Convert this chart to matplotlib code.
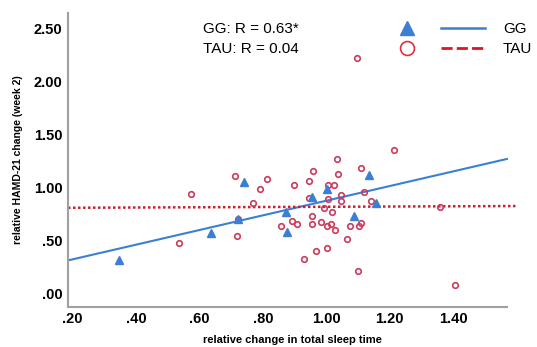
import numpy as np
import matplotlib
matplotlib.use("Agg")
from matplotlib import pyplot as plt
from matplotlib.lines import Line2D
from matplotlib.legend_handler import HandlerTuple

matplotlib.rcParams.update({
    'font.family': ['Liberation Sans', 'DejaVu Sans'],
})

# GG group (triangles)
gg_x = [0.346, 0.635, 0.723, 0.741, 0.872, 0.877, 0.956, 1.001, 1.089, 1.135, 1.156]
gg_y = [0.318, 0.572, 0.711, 1.057, 0.774, 0.588, 0.918, 0.991, 0.739, 1.123, 0.861]

# TAU group (open circles)
tau_x = [0.535, 0.572, 0.711, 0.717, 0.723, 0.768, 0.791, 0.812, 0.856, 0.891,
         0.899, 0.908, 0.930, 0.945, 0.945, 0.956, 0.956, 0.959, 0.967, 0.982,
         0.994, 1.001, 1.003, 1.006, 1.007, 1.015, 1.019, 1.024, 1.027, 1.035,
         1.036, 1.045, 1.047, 1.064, 1.076, 1.097, 1.101, 1.104, 1.108, 1.109,
         1.119, 1.141, 1.214, 1.360, 1.405]
tau_y = [0.484, 0.943, 1.110, 0.550, 0.711, 0.858, 0.991, 1.085, 0.644, 0.689,
         1.022, 0.660, 0.333, 1.069, 0.903, 0.739, 0.660, 1.160, 0.409, 0.676,
         0.808, 0.437, 0.644, 1.022, 0.893, 0.660, 0.771, 1.022, 0.604, 1.271,
         1.126, 0.931, 0.877, 0.519, 0.642, 2.220, 0.220, 0.642, 1.186, 0.673,
         0.962, 0.877, 1.352, 0.821, 0.082]

xticks = [0.2, 0.4, 0.6, 0.8, 1.0, 1.2, 1.4]
xtick_labels = ['.20', '.40', '.60', '.80', '1.00', '1.20', '1.40']
yticks = [0.0, 0.5, 1.0, 1.5, 2.0, 2.5]
ytick_labels = ['.00', '.50', '1.00', '1.50', '2.00', '2.50']

annot = ['GG: R = 0.63*', 'TAU: R = 0.04']

BLUE = '#3b7fd4'
RED_PT = '#cc3a5c'
RED_LN = '#cc1f2f'

fig = plt.figure(figsize=(5.37, 3.47), dpi=100)
ax = fig.add_axes([0.1266, 0.1161, 0.8351, 0.8473])

xmin, xmax = 0.185, 1.6
ax.set_xlim(xmin, xmax)
ax.set_ylim(-0.12, 2.65)

# regression lines
gg_fit = np.polyfit(gg_x, gg_y, 1)
tau_fit = np.polyfit(tau_x, tau_y, 1)
xs_gg = np.array([xmin, 1.57])
xs_tau = np.array([xmin, xmax])
ax.plot(xs_gg, np.polyval(gg_fit, xs_gg), color=BLUE, lw=1.5, zorder=2)
ax.plot(xs_tau, np.polyval(tau_fit, xs_tau), color=RED_LN, lw=1.8,
        linestyle=(0, (1, 1)), zorder=2)

ax.plot(tau_x, tau_y, 'o', ms=4, mfc='none', mec=RED_PT, mew=1.2, zorder=3)
ax.plot(gg_x, gg_y, '^', ms=5.5, color=BLUE, mec=BLUE, zorder=4)

ax.set_xticks(xticks)
ax.set_xticklabels(xtick_labels, fontsize=10.5, fontweight='bold')
ax.set_yticks(yticks)
ax.set_yticklabels(ytick_labels, fontsize=10.5, fontweight='bold')
ax.tick_params(length=0, pad=4)

for side in ['top', 'right']:
    ax.spines[side].set_visible(False)
for side in ['left', 'bottom']:
    ax.spines[side].set_color('#a0a0a0')
    ax.spines[side].set_linewidth(1.5)
ax.spines['bottom'].set_bounds(xmin, 1.57)

ax.set_xlabel('relative change in total sleep time', fontsize=8, fontweight='bold',
              labelpad=6)
ax.set_ylabel('relative HAMD-21 change (week 2)', fontsize=7.5, fontweight='bold',
              labelpad=8)

ax.text(0.302, 0.945, annot[0], transform=ax.transAxes, fontsize=11, va='center')
ax.text(0.302, 0.877, annot[1], transform=ax.transAxes, fontsize=11, va='center')

# legend
h_gg = (Line2D([], [], marker='^', ls='none', ms=10, color=BLUE),
        Line2D([], [], color=BLUE, lw=1.8))
h_tau = (Line2D([], [], marker='o', ls='none', ms=10, mfc='none', mec='#e03040', mew=1.2),
         Line2D([], [], color='#e3141e', lw=2, ls=(0, (4, 1.5))))
fig.legend([h_gg, h_tau], ['GG', 'TAU'], loc='upper left',
           bbox_to_anchor=(385 / 537, 1 - 22 / 347), frameon=False, fontsize=11,
           handler_map={tuple: HandlerTuple(ndivide=2, pad=0.785)},
           handlelength=6.54, handletextpad=1.18, borderpad=0, borderaxespad=0,
           labelspacing=0.4)

fig.savefig('out.png', dpi=100)
